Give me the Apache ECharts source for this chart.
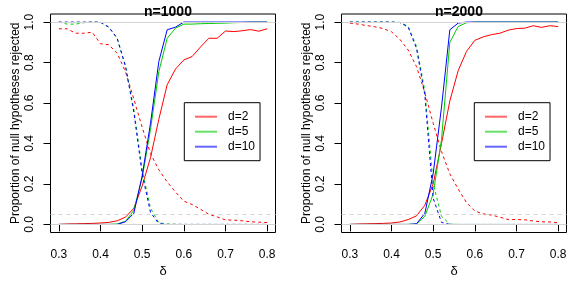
<!DOCTYPE html>
<html>
<head>
<meta charset="utf-8">
<script src="https://cdn.jsdelivr.net/npm/echarts@6/dist/echarts.min.js"></script>
<style>html,body{margin:0;padding:0;background:#fff;}#c{width:581px;height:291px;}</style>
</head>
<body>
<div id="c"></div>
<script>
// delta values (x axis)
const delta = [0.30,0.32,0.34,0.36,0.38,0.40,0.42,0.44,0.46,0.48,0.50,0.52,0.54,0.56,0.58,0.60,0.62,0.64,0.66,0.68,0.70,0.72,0.74,0.76,0.78,0.80];
const xTicks = [0.3,0.4,0.5,0.6,0.7,0.8];
const yTicks = [0,0.2,0.4,0.6,0.8,1.0];
const panelTitles = ['n=1000','n=2000'];
const seriesNames = ['d=2','d=5','d=10'];

// n=1000 : solid (alternative rejected) and dashed (null rejected)
const n1000_d2_solid  = [0,0.002,0.003,0.004,0.005,0.007,0.010,0.018,0.036,0.080,0.190,0.330,0.520,0.690,0.768,0.813,0.830,0.877,0.920,0.920,0.956,0.953,0.957,0.963,0.955,0.967];
const n1000_d5_solid  = [0,0,0,0,0,0,0,0.002,0.015,0.070,0.230,0.470,0.755,0.920,0.970,0.990,0.990,0.992,0.993,0.994,0.995,0.997,0.998,1,1,1];
const n1000_d10_solid = [0,0,0,0,0,0,0,0,0.013,0.055,0.240,0.500,0.805,0.962,0.975,1,1,1,1,1,1,1,1,1,1,1];
const n1000_d2_dash   = [0.967,0.967,0.945,0.945,0.950,0.893,0.888,0.846,0.755,0.620,0.480,0.350,0.270,0.210,0.160,0.115,0.098,0.075,0.050,0.037,0.022,0.021,0.018,0.013,0.011,0.009];
const n1000_d5_dash   = [1,0.990,0.990,0.997,1,0.998,0.975,0.920,0.785,0.570,0.270,0.080,0.008,0.002,0.001,0,0,0,0,0,0,0,0,0,0,0];
const n1000_d10_dash  = [1,1,1,1,1,1,0.975,0.920,0.780,0.555,0.250,0.060,0.003,0,0,0,0,0,0,0,0,0,0,0,0,0];

// n=2000
const n2000_d2_solid  = [0,0.002,0.003,0.004,0.005,0.007,0.012,0.024,0.042,0.095,0.200,0.400,0.610,0.760,0.855,0.910,0.927,0.938,0.945,0.960,0.968,0.970,0.982,0.974,0.982,0.978];
const n2000_d5_solid  = [0,0,0,0,0,0,0,0,0.002,0.040,0.150,0.420,0.900,0.978,0.997,1,1,1,1,1,1,1,1,1,1,1];
const n2000_d10_solid = [0,0,0,0,0,0,0,0,0.003,0.055,0.250,0.580,0.962,0.995,1,1,1,1,1,1,1,1,1,1,1,1];
const n2000_d2_dash   = [0.995,0.990,0.983,0.977,0.968,0.952,0.915,0.862,0.780,0.652,0.500,0.360,0.250,0.175,0.108,0.066,0.052,0.046,0.036,0.024,0.024,0.023,0.017,0.013,0.012,0.008];
const n2000_d5_dash   = [1,1,1,1,1,1,0.998,0.980,0.880,0.660,0.200,0.040,0.002,0,0,0,0,0,0,0,0,0,0,0,0,0];
const n2000_d10_dash  = [1,1,1,1,1,1,0.998,0.975,0.870,0.640,0.130,0.010,0,0,0,0,0,0,0,0,0,0,0,0,0,0];

const colors = ['#FF0000','#00CD00','#0000FF'];
const FONT = 'Liberation Sans';

const panels = [
  {solid:[n1000_d2_solid,n1000_d5_solid,n1000_d10_solid], dash:[n1000_d2_dash,n1000_d5_dash,n1000_d10_dash]},
  {solid:[n2000_d2_solid,n2000_d5_solid,n2000_d10_solid], dash:[n2000_d2_dash,n2000_d5_dash,n2000_d10_dash]}
];
const gridLeft = [50.5, 341.5];
const gridW = 225, gridTop = 14, gridH = 218.5;
const legendLeft = [184.3, 474.3];

const pairs = arr => delta.map((d,i)=>[d,arr[i]]);

const series = [];
panels.forEach((p,gi)=>{
  for (let k=0;k<3;k++){
    const s = {
      type:'line', name:seriesNames[k], xAxisIndex:gi, yAxisIndex:gi,
      data:pairs(p.solid[k]), symbol:'none', showSymbol:false,
      lineStyle:{color:colors[k], width:1}, itemStyle:{color:colors[k]}, z:3
    };
    if (k===0){
      s.markLine = {
        silent:true, symbol:'none', label:{show:false}, animation:false,
        data:[
          {yAxis:1, lineStyle:{color:'#d3d3d3', type:'solid', width:1}},
          {yAxis:0, lineStyle:{color:'#d3d3d3', type:'solid', width:1}},
          {yAxis:0.05, lineStyle:{color:'#d3d3d3', type:[4,4], width:1}}
        ]
      };
    }
    series.push(s);
    series.push({
      type:'line', name:seriesNames[k]+' null', xAxisIndex:gi, yAxisIndex:gi,
      data:pairs(p.dash[k]), symbol:'none', showSymbol:false,
      lineStyle:{color:colors[k], width:1, type:[3,3]}, itemStyle:{color:colors[k]}, z:3
    });
  }
});

const option = {
  animation:false,
  backgroundColor:'#fff',
  textStyle:{fontFamily:FONT},
  title: panelTitles.map((t,i)=>({
    text:t, left:gridLeft[i]+gridW/2, top:0, textAlign:'center',
    textStyle:{fontFamily:FONT, fontSize:14, fontWeight:'bold', color:'#000'}
  })),
  legend: [0,1].map(i=>({
    data:seriesNames, orient:'vertical', left:legendLeft[i], top:102.7,
    padding:[7,5,7,10.7], itemWidth:22, itemHeight:2, itemGap:1, icon:'rect',
    itemStyle:{opacity:0.6},
    borderColor:'#000', borderWidth:1, borderRadius:0, backgroundColor:'#fff',
    selectedMode:false,
    textStyle:{fontFamily:FONT, fontSize:12, color:'#000', lineHeight:14, padding:[0,0,0,6]}
  })),
  grid: gridLeft.map(l=>({left:l, top:gridTop, width:gridW, height:gridH, show:true, borderColor:'#000', borderWidth:1, backgroundColor:'rgba(0,0,0,0)'})),
  xAxis: [0,1].map(i=>({
    type:'value', gridIndex:i, min:0.28, max:0.82,
    axisLine:{show:false}, splitLine:{show:false},
    axisTick:{show:true, length:7, customValues:xTicks, lineStyle:{color:'#000'}},
    axisLabel:{customValues:xTicks, formatter:v=>v.toFixed(1), margin:16, fontSize:12, color:'#000', fontFamily:FONT},
    name:'δ', nameLocation:'middle', nameGap:30,
    nameTextStyle:{fontSize:13, color:'#000', fontFamily:FONT}
  })),
  yAxis: [0,1].map(i=>({
    type:'value', gridIndex:i, min:-0.04, max:1.04,
    axisLine:{show:false}, splitLine:{show:false},
    axisTick:{show:true, length:7, customValues:yTicks, lineStyle:{color:'#000'}},
    axisLabel:{customValues:yTicks, formatter:v=>v.toFixed(1), rotate:90, margin:15, fontSize:12, color:'#000', fontFamily:FONT},
    name:'Proportion of null hypotheses rejected', nameLocation:'middle', nameGap:29,
    nameTextStyle:{fontSize:12, color:'#000', fontFamily:FONT}
  })),
  series: series
};

const chart = echarts.init(document.getElementById('c'), null, {renderer:'canvas'});
chart.setOption(option);
</script>
</body>
</html>
